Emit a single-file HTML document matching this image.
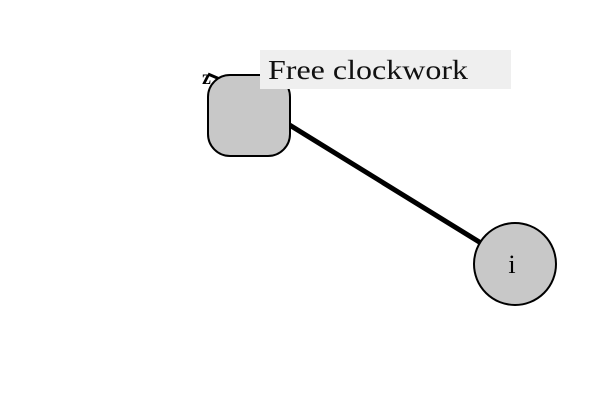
<!DOCTYPE html>
<html><head><meta charset="utf-8"><style>body{margin:0;background:#fff}svg{display:block}</style></head>
<body>
<svg width="600" height="400" viewBox="0 0 600 400">
<line x1="249" y1="100" x2="515" y2="264" stroke="#000" stroke-width="5"/>
<line x1="208" y1="74" x2="222" y2="80" stroke="#000" stroke-width="3"/>
<rect x="208" y="75" width="82" height="81" rx="22" fill="#c8c8c8" stroke="#000" stroke-width="2"/>
<text x="202" y="84" font-family="Liberation Serif, serif" font-size="20" font-weight="bold">z</text>
<circle cx="515" cy="264" r="41" fill="#c8c8c8" stroke="#000" stroke-width="2"/>
<text x="512" y="273" text-anchor="middle" font-family="Liberation Serif, serif" font-size="26" textLength="9">i</text>
<rect x="260" y="50" width="251" height="39" fill="#efefef"/>
<text x="268" y="79" font-family="Liberation Serif, serif" font-size="27" fill="#111" textLength="200" lengthAdjust="spacingAndGlyphs">Free clockwork</text>
</svg>
</body></html>
